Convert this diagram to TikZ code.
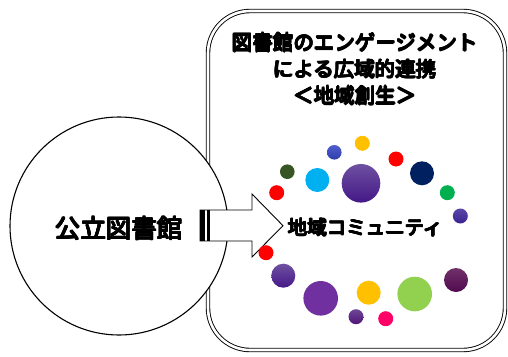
\documentclass[tikz,border=0pt]{standalone}
\usepackage{fontspec}
\newfontfamily\jp{Noto Sans CJK JP}
\newlength\thk
\setlength\thk{0.7pt}
\newcommand\heavyjp[1]{\leavevmode\hbox{%
  \rlap{\kern\thk\hbox{#1}}%
  \rlap{\kern-\thk\hbox{#1}}%
  \rlap{\raisebox{\thk}{#1}}%
  \rlap{\raisebox{-\thk}{#1}}%
  \rlap{\kern0.7\thk\raisebox{0.7\thk}{#1}}%
  \rlap{\kern-0.7\thk\raisebox{0.7\thk}{#1}}%
  \rlap{\kern0.7\thk\raisebox{-0.7\thk}{#1}}%
  \rlap{\kern-0.7\thk\raisebox{-0.7\thk}{#1}}%
  #1}}
\begin{document}
\begin{tikzpicture}[x=1pt,y=-1pt,
  jptext/.style={font=\jp,inner sep=0pt,align=center}]
\useasboundingbox (0,0) rectangle (508,356);
\fill[white] (0,0) rectangle (508,356);
% outer rounded frame
\draw[line width=0.9pt,double=white,double distance=2.6pt,rounded corners=42pt]
  (208,11) rectangle (505,350);
% circle
\node[circle,draw,line width=1.1pt,fill=white,minimum size=218pt,inner sep=0pt] (lib) at (119,226) {};
\node[jptext,font=\jp\fontsize{25.5}{28}\selectfont] (libt) at (119,228.5) {\heavyjp{公立図書館}};
% striped arrow
\draw[line width=0.9pt,fill=white,line join=miter]
  (200,210) -- (252,210) -- (252,194) -- (283,225.7) -- (252,257) -- (252,241) -- (200,241) -- cycle;
\fill (200,210) rectangle (205,241);
\fill (207,210) rectangle (210,241);
% title
\node[jptext,font=\jp\fontsize{20.5}{26.5}\selectfont] (title) at (355,69)
  {\heavyjp{図書館のエンゲージメント}\\\heavyjp{による広域的連携}\\\heavyjp{＜地域創生＞}};
% dots
\fill[color={rgb,255:red,255;green,192;blue,0}] (362.3,143.3) circle (7.5);
\shade[top color={rgb,255:red,80;green,95;blue,205},bottom color={rgb,255:red,45;green,60;blue,170}] (334.3,152.3) circle (7.3);
\fill[red] (396,159) circle (7.5);
\fill[color={rgb,255:red,55;green,86;blue,35}] (287.3,171.7) circle (7.3);
\fill[color={rgb,255:red,0;green,176;blue,240}] (317.3,180) circle (12);
\shade[top color={rgb,255:red,110;green,80;blue,160},bottom color={rgb,255:red,68;green,24;blue,136}] (361,183.3) circle (19.3);
\fill[color={rgb,255:red,0;green,32;blue,96}] (422,173.3) circle (12);
\fill[red] (276.7,192.7) circle (7.5);
\fill[color={rgb,255:red,0;green,176;blue,80}] (447.3,192.7) circle (7.5);
\shade[top color={rgb,255:red,90;green,70;blue,170},bottom color={rgb,255:red,60;green,35;blue,145}] (460.3,216) circle (7.5);
\fill[red] (266,252.7) circle (7.5);
\shade[top color={rgb,255:red,110;green,80;blue,160},bottom color={rgb,255:red,70;green,24;blue,136}] (283.3,275.7) circle (12);
\fill[color={rgb,255:red,112;green,48;blue,160}] (320.7,298.3) circle (17.3);
\fill[color={rgb,255:red,255;green,192;blue,0}] (368.7,292.7) circle (12);
\fill[color={rgb,255:red,146;green,208;blue,80}] (414.7,294) circle (17.3);
\shade[top color={rgb,255:red,112;green,50;blue,105},bottom color={rgb,255:red,80;green,10;blue,80}] (456,280) circle (12);
\shade[top color={rgb,255:red,110;green,70;blue,150},bottom color={rgb,255:red,80;green,20;blue,120}] (356,316.7) circle (7.5);
\fill[color={rgb,255:red,255;green,0;blue,102}] (385.7,318.7) circle (7.5);
% community label
\node[jptext,font=\jp\fontsize{19.5}{22}\selectfont] (comm) at (365.5,227.5) {\heavyjp{地域コミュニティ}};
\end{tikzpicture}
\end{document}
